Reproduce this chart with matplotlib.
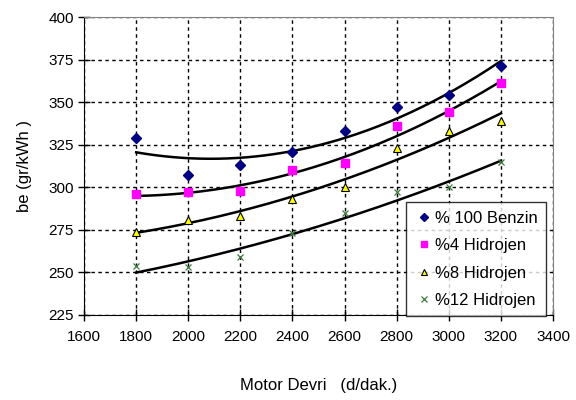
import numpy as np
import matplotlib.pyplot as plt

plt.rcParams['font.family'] = ['Liberation Sans', 'DejaVu Sans']

rpm = [1800, 2000, 2200, 2400, 2600, 2800, 3000, 3200]
benzin = [329, 307, 313, 321, 333, 347, 354, 371]
h4 = [296, 297, 298, 310, 314, 336, 344, 361]
h8 = [274, 281, 283, 293, 300, 323, 333, 339]
h12 = [254, 253, 259, 273, 285, 297, 300, 315]

fig = plt.figure(figsize=(5.76, 4), dpi=100)
ax = fig.add_axes([0.146, 0.2125, 0.814, 0.745])

x = np.array(rpm)
xs = np.linspace(1800, 3200, 200)
for s in [benzin, h4, h8, h12]:
    c = np.polyfit(x, s, 2)
    ax.plot(xs, np.polyval(c, xs), color='black', lw=1.8, zorder=2)

ax.plot(rpm, benzin, 'D', color='#000080', ms=5, ls='none', label='% 100 Benzin', zorder=3)
ax.plot(rpm, h4, 's', color='#FF00FF', ms=6, ls='none', label='%4 Hidrojen', zorder=3)
ax.plot(rpm, h8, '^', color='#FFFF00', mec='black', mew=0.8, ms=6, ls='none', label='%8 Hidrojen', zorder=3)
ax.plot(rpm, h12, 'x', color='#3A7A3A', ms=5, mew=0.9, ls='none', label='%12 Hidrojen', zorder=3)

ax.set_xlim(1600, 3400)
ax.set_ylim(225, 400)
ax.set_xticks(np.arange(1600, 3401, 200))
ax.set_yticks(np.arange(225, 401, 25))
ax.grid(True, color='black', ls=(0, (2.5, 2.5)), lw=1)
ax.tick_params(direction='inout', length=8, width=1, labelsize=11)
ax.tick_params(axis='x', pad=7)
ax.spines['top'].set_color('#808080')
ax.spines['right'].set_color('#808080')

ax.set_xlabel('Motor Devri   (d/dak.)', fontsize=12, labelpad=24)
ax.set_ylabel('be (gr/kWh )', fontsize=12, labelpad=12)

leg = ax.legend(loc='lower right', bbox_to_anchor=(0.985, -0.005), fontsize=12,
                frameon=True, fancybox=False, edgecolor='black',
                handletextpad=0.05, handlelength=1.2, markerscale=0.8,
                borderaxespad=0, labelspacing=0.75, borderpad=0.5)
leg.get_frame().set_linewidth(1)

plt.savefig('out.png', dpi=100)
